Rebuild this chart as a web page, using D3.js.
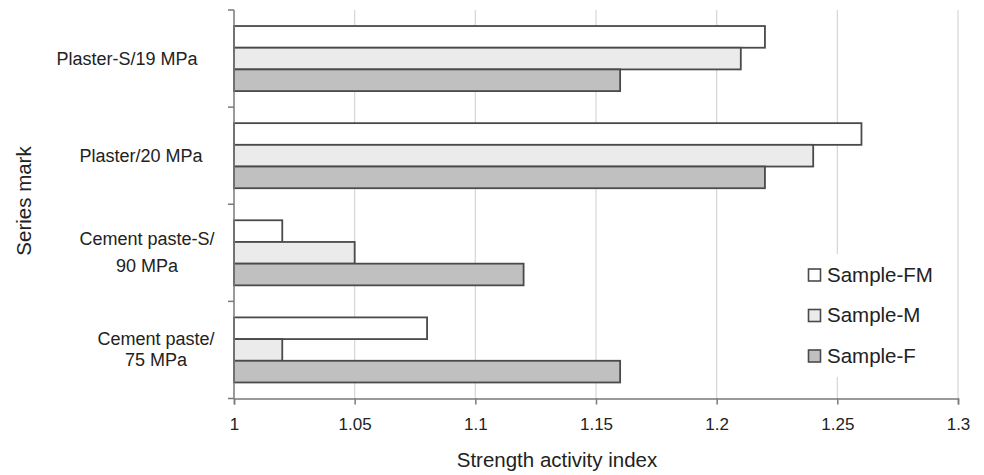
<!DOCTYPE html>
<html>
<head>
<meta charset="utf-8">
<script src="https://cdn.jsdelivr.net/npm/d3@7"></script>
<style>
  html, body { margin: 0; padding: 0; background: #fff; }
  svg { display: block; font-family: "Liberation Sans", Arial, Helvetica, sans-serif; }
</style>
</head>
<body>
<svg id="chart" width="984" height="475"></svg>
<script>
// Mix designs (top to bottom) and their label lines
const categories = ["Plaster-S/19 MPa", "Plaster/20 MPa", "Cement paste-S/90 MPa", "Cement paste/75 MPa"];
const categoryLines = [["Plaster-S/19 MPa"], ["Plaster/20 MPa"], ["Cement paste-S/", "90 MPa"], ["Cement paste/", "75 MPa"]];

// Series (drawn top to bottom inside each group)
const seriesNames = ["Sample-FM", "Sample-M", "Sample-F"];
const sampleFM = [1.22, 1.26, 1.02, 1.08];
const sampleM  = [1.21, 1.24, 1.05, 1.02];
const sampleF  = [1.16, 1.22, 1.12, 1.16];

const xTicks = [1, 1.05, 1.1, 1.15, 1.2, 1.25, 1.3];
const xTickLabels = ["1", "1.05", "1.1", "1.15", "1.2", "1.25", "1.3"];

// Styling / layout
const fills = ["#ffffff", "#ebebeb", "#c0c0c0"];
const labelCenterX = [127, 141, 147, 156];
const labelLineGap = [0, 0, 27, 21];

const svg = d3.select("#chart");
const plot = { left: 234, right: 958, top: 10, bottom: 398.5 };

const x = d3.scaleLinear().domain([1, 1.3]).range([plot.left, plot.right]);
const y = d3.scaleBand().domain(categories).range([plot.top, plot.bottom]).padding(0);
const inner = d3.scaleBand().domain(seriesNames)
  .range([y.bandwidth() * 0.165, y.bandwidth() * 0.835]).padding(0);

const rows = categories.map((c, i) => ({
  cat: c,
  values: [sampleFM[i], sampleM[i], sampleF[i]].map((v, j) => ({ s: seriesNames[j], v, j }))
}));

// Vertical gridlines
svg.append("g").selectAll("line").data(xTicks.slice(1)).join("line")
  .attr("x1", d => x(d)).attr("x2", d => x(d))
  .attr("y1", plot.top).attr("y2", plot.bottom)
  .attr("stroke", "#d6d6d6").attr("stroke-width", 1.2);

// Bars
const groups = svg.append("g").selectAll("g").data(rows).join("g")
  .attr("transform", d => `translate(0,${y(d.cat)})`);
groups.selectAll("rect").data(d => d.values).join("rect")
  .attr("x", x(1))
  .attr("y", d => inner(d.s))
  .attr("width", d => x(d.v) - x(1))
  .attr("height", inner.bandwidth())
  .attr("fill", d => fills[d.j])
  .attr("stroke", "#4a4a4a")
  .attr("stroke-width", 1.8);

// X axis
const xAxis = d3.axisBottom(x).tickValues(xTicks)
  .tickFormat((d, i) => xTickLabels[i]).tickSize(6).tickPadding(13);
const gx = svg.append("g").attr("transform", `translate(0,${plot.bottom})`).call(xAxis);
gx.select(".domain").attr("stroke", "#7a7a7a").attr("stroke-width", 1.5);
gx.selectAll(".tick line").attr("stroke", "#7a7a7a").attr("stroke-width", 1.5);
gx.selectAll(".tick text").attr("font-size", 17).attr("fill", "#222")
  .attr("font-family", "'Liberation Sans', Arial, sans-serif");

// Y axis (ticks between categories)
const boundaries = d3.range(categories.length + 1).map(i => plot.top + i * y.step());
const gy = svg.append("g");
gy.append("line").attr("x1", plot.left).attr("x2", plot.left)
  .attr("y1", plot.top).attr("y2", plot.bottom)
  .attr("stroke", "#7a7a7a").attr("stroke-width", 1.5);
gy.selectAll("line.tk").data(boundaries).join("line").attr("class", "tk")
  .attr("x1", plot.left - 6).attr("x2", plot.left)
  .attr("y1", d => d).attr("y2", d => d)
  .attr("stroke", "#7a7a7a").attr("stroke-width", 1.5);

// Category labels
categories.forEach((c, i) => {
  const lines = categoryLines[i];
  const cy = y(c) + y.bandwidth() / 2;
  const t = svg.append("text")
    .attr("text-anchor", "middle")
    .attr("font-size", 18).attr("fill", "#222");
  lines.forEach((ln, k) => {
    t.append("tspan")
      .attr("x", labelCenterX[i])
      .attr("y", cy + 6 + (k - (lines.length - 1) / 2) * labelLineGap[i])
      .text(ln);
  });
});

// Axis titles
svg.append("text")
  .attr("x", 557).attr("y", 467)
  .attr("text-anchor", "middle").attr("font-size", 20.5).attr("fill", "#222")
  .text("Strength activity index");
svg.append("text")
  .attr("transform", "translate(31,201) rotate(-90)")
  .attr("text-anchor", "middle").attr("font-size", 20.5).attr("fill", "#222")
  .text("Series mark");

// Legend
const legend = svg.append("g");
legend.append("rect").attr("x", 800).attr("y", 254).attr("width", 148).attr("height", 123)
  .attr("fill", "#fff");
const legendY = d3.scalePoint().domain(seriesNames).range([275, 356]);
const items = legend.selectAll("g").data(seriesNames).join("g")
  .attr("transform", d => `translate(808,${legendY(d)})`);
items.append("rect").attr("x", 0.5).attr("y", -6).attr("width", 12).attr("height", 12)
  .attr("fill", (d, i) => fills[i]).attr("stroke", "#4a4a4a").attr("stroke-width", 1.6);
items.append("text").attr("x", 19).attr("y", 6.5)
  .attr("font-size", 20.5).attr("fill", "#222").text(d => d);
</script>
</body>
</html>
